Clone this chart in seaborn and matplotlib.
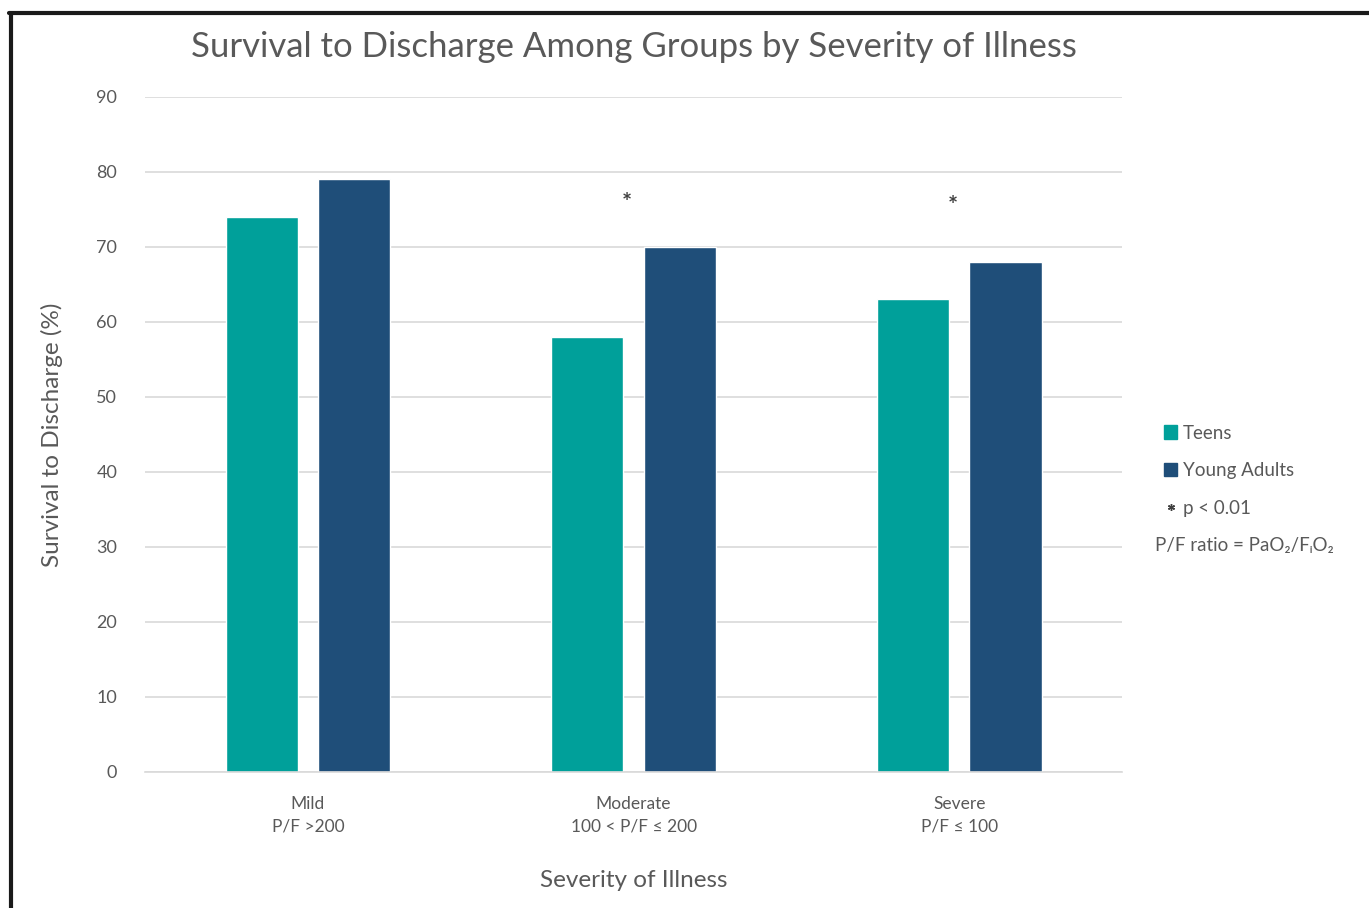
import matplotlib
matplotlib.use("Agg")
import matplotlib.pyplot as plt
import matplotlib.patches as mpatches
from matplotlib.lines import Line2D
import seaborn as sns
import pandas as pd

# ── data
categories = ["Mild\nP/F >200", "Moderate\n100 < P/F \u2264 200", "Severe\nP/F \u2264 100"]
groups     = ["Teens", "Young Adults"]
teens      = [74, 58, 63]
young      = [79, 70, 68]
sig_idx    = [1, 2]      # categories with p < 0.01
sig_y      = [75.8, 75.4]

TEAL = "#00A09A"
NAVY = "#1F4E79"
GREY = "#595959"

df = pd.DataFrame({
    "cat":   categories * 2,
    "group": [groups[0]] * 3 + [groups[1]] * 3,
    "val":   teens + young,
})

sns.set_theme(style="white")
plt.rcParams["font.family"] = ["Lato", "DejaVu Sans"]

fig = plt.figure(figsize=(13.69, 9.08), dpi=100)
ax = fig.add_axes([0.106, 0.1498, 0.7136, 0.7434])

sns.barplot(data=df, x="cat", y="val", hue="group", order=categories,
            hue_order=groups, palette=[TEAL, NAVY], width=0.568, gap=0.22,
            saturation=1, ax=ax, legend=False)

ax.set_ylim(0, 90)
ax.set_yticks(range(0, 91, 10))
ax.set_xlim(-0.5, 2.5)
ax.yaxis.grid(True, color="#D9D9D9", lw=1.2)
ax.set_axisbelow(True)
for s in ["top", "right", "left"]:
    ax.spines[s].set_visible(False)
ax.spines["bottom"].set_color("#D9D9D9")
ax.spines["bottom"].set_linewidth(1.2)
ax.tick_params(axis="y", length=0, pad=20, labelsize=13, labelcolor=GREY)
ax.tick_params(axis="x", length=0, pad=17.5, labelsize=12.5, labelcolor=GREY)
for t in ax.get_xticklabels():
    t.set_linespacing(1.45)

ax.set_ylabel("Survival to Discharge (%)", fontsize=17.5, color=GREY, labelpad=24)
ax.set_xlabel("Severity of Illness", fontsize=17.5, color=GREY, labelpad=26)
ax.set_title("Survival to Discharge Among Groups by Severity of Illness",
             fontsize=25, color=GREY, pad=29)

# significance asterisks
for i, y in zip(sig_idx, sig_y):
    ax.text(i - 0.02, y, "*", ha="center", va="center", fontsize=17,
            fontweight="bold", color="#404040")

# legend
handles = [mpatches.Patch(color=TEAL, label="Teens"),
           mpatches.Patch(color=NAVY, label="Young Adults"),
           Line2D([], [], marker=(6, 2, 0), ls="", color="#404040", markersize=5,
                  label="p < 0.01")]
fig.legend(handles=handles, loc="upper left", bbox_to_anchor=(0.838, 0.551),
           frameon=False, fontsize=13.5, labelcolor=GREY, handlelength=0.7,
           handleheight=0.7, handletextpad=0.3, labelspacing=1.1)
fig.text(0.844, 0.399, "P/F ratio = PaO\u2082/F\u1d62O\u2082", fontsize=13.5,
         color=GREY, va="center")

# black frame (top and left edges)
fig.add_artist(Line2D([0.0066, 1.0], [0.9857, 0.9857], color="#1A1A1A", lw=3,
                      transform=fig.transFigure))
fig.add_artist(Line2D([0.0077, 0.0077], [0.0, 0.9857], color="#1A1A1A", lw=3,
                      transform=fig.transFigure))

fig.savefig("out.png", dpi=100)
